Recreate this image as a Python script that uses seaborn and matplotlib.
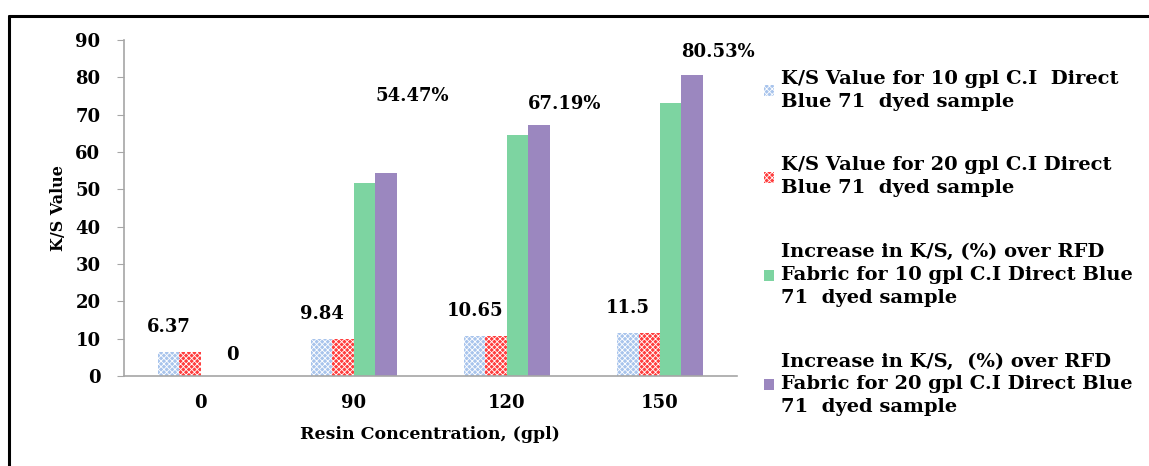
import matplotlib
matplotlib.use("Agg")
import matplotlib.pyplot as plt
from matplotlib.lines import Line2D
import seaborn as sns
import pandas as pd

# data
concentrations = ["0", "90", "120", "150"]
ks_10gpl = [6.37, 9.84, 10.65, 11.5]
ks_20gpl = [6.4, 10.0, 10.75, 11.6]
inc_10gpl = [0, 51.6, 64.7, 73.2]
inc_20gpl = [0, 54.47, 67.19, 80.53]
ks_labels = ["6.37", "9.84", "10.65", "11.5"]
pct_labels = ["0", "54.47%", "67.19%", "80.53%"]

series_names = [
    "K/S Value for 10 gpl C.I  Direct\nBlue 71  dyed sample",
    "K/S Value for 20 gpl C.I Direct\nBlue 71  dyed sample",
    "Increase in K/S, (%) over RFD\nFabric for 10 gpl C.I Direct Blue\n71  dyed sample",
    "Increase in K/S,  (%) over RFD\nFabric for 20 gpl C.I Direct Blue\n71  dyed sample",
]
colors = ["#a8c4ec", "#ff3d3d", "#7dd4a1", "#9b87bf"]
hatches = ["xxxxxx", "xxxxxx", None, None]

df = pd.DataFrame({
    "conc": concentrations * 4,
    "value": ks_10gpl + ks_20gpl + inc_10gpl + inc_20gpl,
    "series": [s for s in series_names for _ in concentrations],
})

sns.set_style("white")
plt.rcParams["font.family"] = ["DejaVu Serif"]
plt.rcParams["font.weight"] = "bold"
plt.rcParams["hatch.linewidth"] = 0.6
plt.rcParams["text.color"] = "black"
plt.rcParams["axes.labelcolor"] = "black"

fig = plt.figure(figsize=(11.49, 4.66), dpi=100)
ax = fig.add_axes([0.108, 0.193, 0.533, 0.721])

sns.barplot(data=df, x="conc", y="value", hue="series", order=concentrations,
            hue_order=series_names, palette=colors, width=0.56, saturation=1,
            ax=ax, legend=False)

for cont, h in zip(ax.containers, hatches):
    for p in cont.patches:
        p.set_linewidth(0)
        if h:
            p.set_hatch(h)
            p.set_edgecolor("white")

# value labels
blue_bars = ax.containers[0].patches
purple_bars = ax.containers[3].patches
for i, p in enumerate(blue_bars):
    ax.annotate(ks_labels[i], xy=(p.get_x() + p.get_width() / 2, max(ks_10gpl[i], ks_20gpl[i])),
                xytext=(0, 18), textcoords="offset points", ha="center", va="center",
                fontsize=13, fontweight="bold", color="black")
pct_offsets = [15, 55, 15, 17]
for i, p in enumerate(purple_bars):
    if i == 0:
        x, ha = p.get_x() + p.get_width() / 2, "center"
    else:
        x, ha = p.get_x(), "left"
    ax.annotate(pct_labels[i], xy=(x, inc_20gpl[i]), xytext=(0, pct_offsets[i]),
                textcoords="offset points", ha=ha, va="center",
                fontsize=13, fontweight="bold", color="black")

ax.set_ylim(0, 90)
ax.set_yticks(range(0, 91, 10))
ax.set_xlim(-0.5, 3.5)
ax.set_xlabel("Resin Concentration, (gpl)", fontsize=12.5, fontweight="bold", labelpad=10)
ax.set_ylabel("K/S Value", fontsize=11.5, fontweight="bold", labelpad=6)
ax.tick_params(axis="y", length=5, color="#a6a6a6", labelcolor="black", labelsize=13, pad=12, left=True)
ax.tick_params(axis="x", length=0, labelcolor="black", labelsize=13, pad=13)
for lbl in ax.get_xticklabels() + ax.get_yticklabels():
    lbl.set_fontweight("bold")
sns.despine(ax=ax)
for s in ["left", "bottom"]:
    ax.spines[s].set_color("#a6a6a6")
    ax.spines[s].set_linewidth(1.2)

handles = [cont.patches[0] for cont in ax.containers]
leg = ax.legend(handles, series_names, loc="upper left", bbox_to_anchor=(0.665, 0.85),
                bbox_transform=fig.transFigure, frameon=False, fontsize=14,
                handlelength=0.5, handleheight=0.5, handletextpad=0.35,
                labelspacing=2.35, borderpad=0, borderaxespad=0)
for t in leg.get_texts():
    t.set_linespacing(1.35)
    t.set_color("black")

# outer frame (top and left)
fig.add_artist(Line2D([0.008, 1], [0.966, 0.966], color="black", lw=2.2, transform=fig.transFigure))
fig.add_artist(Line2D([0.008, 0.008], [0, 0.966], color="black", lw=2.2, transform=fig.transFigure))

fig.savefig("out.png", dpi=100)
